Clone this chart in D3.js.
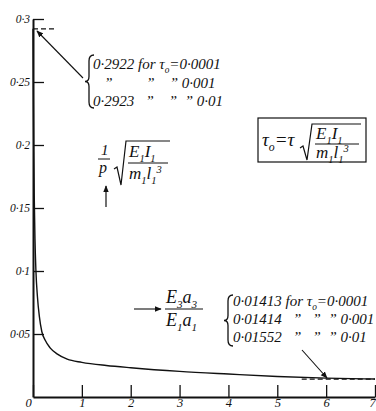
<!DOCTYPE html>
<html>
<head>
<meta charset="utf-8">
<script src="https://cdn.jsdelivr.net/npm/d3@7"></script>
<style>
  html, body { margin: 0; padding: 0; background: #fff; }
  svg text { font-family: "Liberation Serif", "DejaVu Serif", serif; font-style: italic; fill: #111; }
</style>
</head>
<body>
<svg id="chart" width="376" height="411" font-family="Liberation Serif"></svg>
<script>
// Stiffness ratio E3a3/E1a1 (horizontal axis)
const stiffnessRatio = [0, 0.004, 0.008, 0.015, 0.025, 0.04, 0.06, 0.09, 0.13, 0.18, 0.25, 0.35, 0.5, 0.7, 1, 1.5, 2, 3, 4, 5, 6, 7];
// Frequency parameter (1/p)·sqrt(E1I1/m1l1^3)
const freqParam = [0.2922, 0.262, 0.232, 0.195, 0.160, 0.126, 0.100, 0.080, 0.064, 0.052, 0.045, 0.039, 0.034, 0.030, 0.0275, 0.025, 0.0232, 0.0203, 0.0182, 0.0163, 0.0150, 0.0143];

const yTicks = [0.05, 0.1, 0.15, 0.2, 0.25, 0.3];
const yTickLabels = ["0·05", "0·1", "0·15", "0·2", "0·25", "0·3"];
const xTicks = [0, 1, 2, 3, 4, 5, 6, 7];
const xTickLabels = ["0", "1", "2", "3", "4", "5", "6", "7"];

// Limiting values quoted for three values of tau0
const tauValues = ["0·0001", "0·001", "0·01"];
const upperLimits = [0.2922, 0.2922, 0.2923];
const upperLimitLabels = ["0·2922", "0·2922", "0·2923"];
const lowerLimits = [0.01413, 0.01414, 0.01552];
const lowerLimitLabels = ["0·01413", "0·01414", "0·01552"];

const FONT = "Liberation Serif";
const svg = d3.select("#chart");
const x = d3.scaleLinear().domain([0, 7]).range([33, 375]);
const y = d3.scaleLinear().domain([0, 0.3]).range([397, 19]);

svg.append("defs").append("marker")
  .attr("id", "head").attr("viewBox", "0 0 10 10")
  .attr("refX", 9).attr("refY", 5)
  .attr("markerWidth", 7).attr("markerHeight", 7)
  .attr("markerUnits", "userSpaceOnUse")
  .attr("orient", "auto")
  .append("path").attr("d", "M0,1 L10,5 L0,9 Z").attr("fill", "#111");

// Axes
const yAxis = d3.axisLeft(y)
  .tickValues(yTicks)
  .tickFormat((d, i) => yTickLabels[i])
  .tickSizeInner(-11).tickSizeOuter(0).tickPadding(3);
const gy = svg.append("g").attr("transform", `translate(${x(0)},0)`).call(yAxis)
  .attr("font-family", FONT);
gy.select(".domain").attr("stroke", "#111").attr("stroke-width", 2);
gy.selectAll(".tick line").attr("stroke", "#111").attr("stroke-width", 1.3);
gy.selectAll(".tick text").attr("font-size", 11.5).attr("font-family", FONT).attr("font-style", "italic").attr("fill", "#111");

const xAxis = d3.axisBottom(x)
  .tickValues(xTicks)
  .tickFormat((d, i) => xTickLabels[i])
  .tickSizeInner(-12).tickSizeOuter(0).tickPadding(1);
const gx = svg.append("g").attr("transform", `translate(0,${y(0)})`).call(xAxis)
  .attr("font-family", FONT);
gx.select(".domain").attr("stroke", "#111").attr("stroke-width", 2);
gx.selectAll(".tick line").attr("stroke", "#111").attr("stroke-width", 1.3);
gx.selectAll(".tick text").attr("font-size", 12.5).attr("font-family", FONT).attr("font-style", "italic").attr("fill", "#111");
gx.selectAll(".tick text").filter(d => d === 0).attr("dx", -5);
gx.selectAll(".tick text").filter(d => d === 7).attr("dx", -3);

// Curve
const curvePts = stiffnessRatio.map((r, i) => [r, freqParam[i]]);
svg.append("path")
  .datum(curvePts)
  .attr("fill", "none").attr("stroke", "#111").attr("stroke-width", 1.4)
  .attr("d", d3.line().x(d => x(d[0])).y(d => y(d[1])).curve(d3.curveMonotoneX));

// Dashed limit lines
svg.append("line")
  .attr("x1", x(0)).attr("x2", x(0.48))
  .attr("y1", y(upperLimits[0])).attr("y2", y(upperLimits[0]))
  .attr("stroke", "#111").attr("stroke-width", 1.2).attr("stroke-dasharray", "5,3");
svg.append("line")
  .attr("x1", x(5.5)).attr("x2", x(7))
  .attr("y1", y(lowerLimits[0])).attr("y2", y(lowerLimits[0]))
  .attr("stroke", "#111").attr("stroke-width", 1.2).attr("stroke-dasharray", "5,3");

// Text with sub/superscripts
function rich(parent, px, py, parts, size) {
  const t = parent.append("text").attr("x", px).attr("y", py)
    .attr("font-size", size).attr("font-family", FONT).attr("font-style", "italic");
  let shift = 0;
  parts.forEach(([s, kind]) => {
    const want = kind === "sub" ? size * 0.28 : kind === "sup" ? -size * 0.38 : 0;
    t.append("tspan")
      .attr("dy", want - shift)
      .attr("font-size", kind ? size * 0.62 : size)
      .text(s);
    shift = want;
  });
  return t;
}

function brace(px, y0, y1) {
  const m = (y0 + y1) / 2;
  svg.append("path")
    .attr("d", `M${px + 5},${y0} Q${px},${y0} ${px},${y0 + 6} L${px},${m - 5} Q${px},${m} ${px - 4},${m} Q${px},${m} ${px},${m + 5} L${px},${y1 - 6} Q${px},${y1} ${px + 5},${y1}`)
    .attr("fill", "none").attr("stroke", "#111").attr("stroke-width", 1.3);
}

function sqrtSign(x0, yTop, yBot, x1) {
  const ym = (yTop + yBot) / 2 + 6;
  svg.append("path")
    .attr("d", `M${x0},${ym} L${x0 + 3},${ym - 2} L${x0 + 7},${yBot} L${x0 + 12},${yTop} L${x1},${yTop}`)
    .attr("fill", "none").attr("stroke", "#111").attr("stroke-width", 1.2);
}

// Upper limit annotation
const dit = "”";
brace(89, 55, 108);
rich(svg, 93, 69, [[upperLimitLabels[0] + " for τ", ""], ["o", "sub"], ["=" + tauValues[0], ""]], 15);
rich(svg, 93, 88, [[`   ${dit}         ${dit}    ${dit} ` + tauValues[1], ""]], 15).attr("xml:space", "preserve");
rich(svg, 93, 106, [[upperLimitLabels[2] + `   ${dit}    ${dit}  ${dit} ` + tauValues[2], ""]], 15).attr("xml:space", "preserve");
svg.append("line")
  .attr("x1", 83).attr("y1", 78).attr("x2", 37).attr("y2", 31)
  .attr("stroke", "#111").attr("stroke-width", 1.1).attr("marker-end", "url(#head)");

// Lower limit annotation
brace(228, 295, 346);
rich(svg, 233, 306, [[lowerLimitLabels[0] + " for τ", ""], ["o", "sub"], ["=" + tauValues[0], ""]], 15);
rich(svg, 233, 324, [[lowerLimitLabels[1] + `   ${dit}   ${dit}  ${dit} ` + tauValues[1], ""]], 15).attr("xml:space", "preserve");
rich(svg, 233, 342, [[lowerLimitLabels[2] + `   ${dit}   ${dit}  ${dit} ` + tauValues[2], ""]], 15).attr("xml:space", "preserve");
svg.append("line")
  .attr("x1", 302).attr("y1", 350).attr("x2", 327).attr("y2", 378)
  .attr("stroke", "#111").attr("stroke-width", 1.1).attr("marker-end", "url(#head)");

// Ordinate label: (1/p) sqrt(E1 I1 / m1 l1^3)
rich(svg, 101, 155, [["1", ""]], 15);
svg.append("line").attr("x1", 98).attr("x2", 110).attr("y1", 159).attr("y2", 159).attr("stroke", "#111").attr("stroke-width", 1);
rich(svg, 99, 173, [["p", ""]], 16);
sqrtSign(114, 141, 185, 170);
rich(svg, 129, 157, [["E", ""], ["1", "sub"], ["I", ""], ["1", "sub"]], 17);
svg.append("line").attr("x1", 128).attr("x2", 168).attr("y1", 163).attr("y2", 163).attr("stroke", "#111").attr("stroke-width", 1);
rich(svg, 129, 179, [["m", ""], ["1", "sub"], ["l", ""], ["1", "sub"], ["3", "sup"]], 17);
svg.append("line")
  .attr("x1", 106).attr("y1", 207).attr("x2", 106).attr("y2", 186)
  .attr("stroke", "#111").attr("stroke-width", 1.2).attr("marker-end", "url(#head)");

// Abscissa label: E3 a3 / E1 a1
svg.append("line")
  .attr("x1", 134).attr("y1", 309).attr("x2", 161).attr("y2", 309)
  .attr("stroke", "#111").attr("stroke-width", 1.1).attr("marker-end", "url(#head)");
rich(svg, 166, 303, [["E", ""], ["3", "sub"], ["a", ""], ["3", "sub"]], 18);
svg.append("line").attr("x1", 165).attr("x2", 203).attr("y1", 309).attr("y2", 309).attr("stroke", "#111").attr("stroke-width", 1);
rich(svg, 166, 326, [["E", ""], ["1", "sub"], ["a", ""], ["1", "sub"]], 18);

// Definition box for tau0
svg.append("rect").attr("x", 258).attr("y", 118).attr("width", 108).attr("height", 44)
  .attr("fill", "none").attr("stroke", "#111").attr("stroke-width", 1.2);
rich(svg, 262, 146, [["τ", ""], ["o", "sub"], ["=τ", ""]], 19);
sqrtSign(300, 124, 160, 361);
rich(svg, 316, 139, [["E", ""], ["1", "sub"], ["I", ""], ["1", "sub"]], 17);
svg.append("line").attr("x1", 315).attr("x2", 359).attr("y1", 144).attr("y2", 144).attr("stroke", "#111").attr("stroke-width", 1);
rich(svg, 316, 158, [["m", ""], ["1", "sub"], ["l", ""], ["1", "sub"], ["3", "sup"]], 17);
</script>
</body>
</html>
